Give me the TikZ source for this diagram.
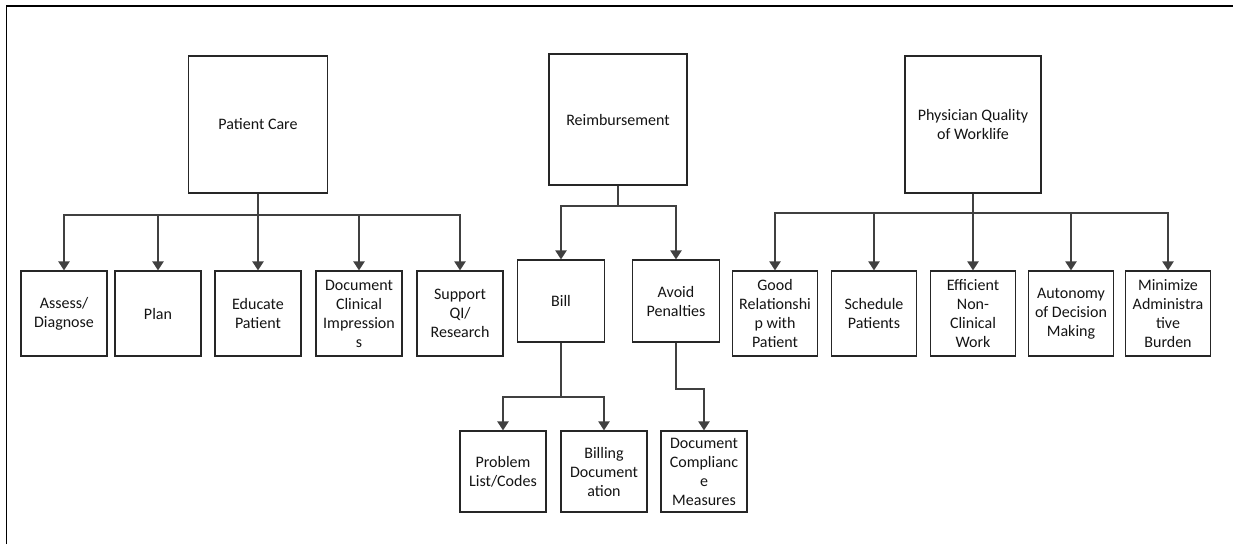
\documentclass[tikz,border=0pt]{standalone}
\usepackage{fontspec}
\setmainfont{Carlito}
\usetikzlibrary{arrows.meta}
\definecolor{linegray}{HTML}{404040}
\definecolor{boxedge}{HTML}{262626}
\begin{document}
\begin{tikzpicture}[x=1pt,y=-1pt,
  box/.style={draw=boxedge,line width=1.1pt,fill=white,align=center,inner sep=2pt,
    text=black!92,font=\fontsize{16}{19}\selectfont},
  topbox/.style={box,minimum width=#1,minimum height=137},
  kidbox/.style={box,minimum width=86,minimum height=85},
  subbox/.style={box,minimum width=87,minimum height=82},
  link/.style={draw=linegray,line width=2pt,
    -{Triangle[width=11pt,length=9pt]},color=linegray}]
\useasboundingbox (0,0) rectangle (1233,544);
% outer frame (top and left edges)
\draw[line width=1.6pt] (6.5,544) -- (6.5,6) -- (1233,6);

% top-level boxes
\node[topbox=139] (pc) at (258,124.5) {Patient Care};
\node[topbox=138,minimum height=131] (rb) at (618,119.5) {Reimbursement};
\node[topbox=136] (pq) at (973,124.5) {Physician Quality\\of Worklife};

% patient care tasks
\node[kidbox] (ad) at (64,313.5) {Assess/\\Diagnose};
\node[kidbox] (pl) at (158,313.5) {Plan};
\node[kidbox] (ep) at (258,313.5) {Educate\\Patient};
\node[kidbox] (dc) at (359,313.5) {Document\\Clinical\\Impression\\s};
\node[kidbox] (sq) at (460,313.5) {Support\\QI/\\Research};

% reimbursement tasks
\node[subbox] (bl) at (561,301) {Bill};
\node[subbox] (ap) at (676,301) {Avoid\\Penalties};
\node[kidbox,minimum height=81] (pr) at (503,471.5) {Problem\\List/Codes};
\node[kidbox,minimum height=81] (bd) at (604,471.5) {Billing\\Document\\ation};
\node[kidbox,minimum height=81] (cm) at (704,471.5) {Document\\Complianc\\e\\Measures};

% physician quality of worklife tasks
\node[kidbox,minimum width=85] (gr) at (775,313.5) {Good\\Relationshi\\p with\\Patient};
\node[kidbox,minimum width=85] (sp) at (874,313.5) {Schedule\\Patients};
\node[kidbox,minimum width=85] (en) at (973,313.5) {Efficient\\Non-\\Clinical\\Work};
\node[kidbox,minimum width=85] (au) at (1071,313.5) {Autonomy\\of Decision\\Making};
\node[kidbox,minimum width=85] (mb) at (1168,313.5) {Minimize\\Administra\\tive\\Burden};

% bus junctions
\coordinate (pcbus) at (258,215);
\coordinate (rbbus) at (618,206);
\coordinate (pqbus) at (973,213);
\coordinate (blbus) at (561,397);
\coordinate (apbend) at (676,389);

\foreach \k in {ad,pl,ep,dc,sq}
  \draw[link] (pc.south) -- (pcbus) -| (\k.north);
\foreach \k in {bl,ap}
  \draw[link] (rb.south) -- (rbbus) -| (\k.north);
\foreach \k in {gr,sp,en,au,mb}
  \draw[link] (pq.south) -- (pqbus) -| (\k.north);
\foreach \k in {pr,bd}
  \draw[link] (bl.south) -- (blbus) -| (\k.north);
\draw[link] (ap.south) -- (apbend) -| (cm.north);
\end{tikzpicture}
\end{document}
